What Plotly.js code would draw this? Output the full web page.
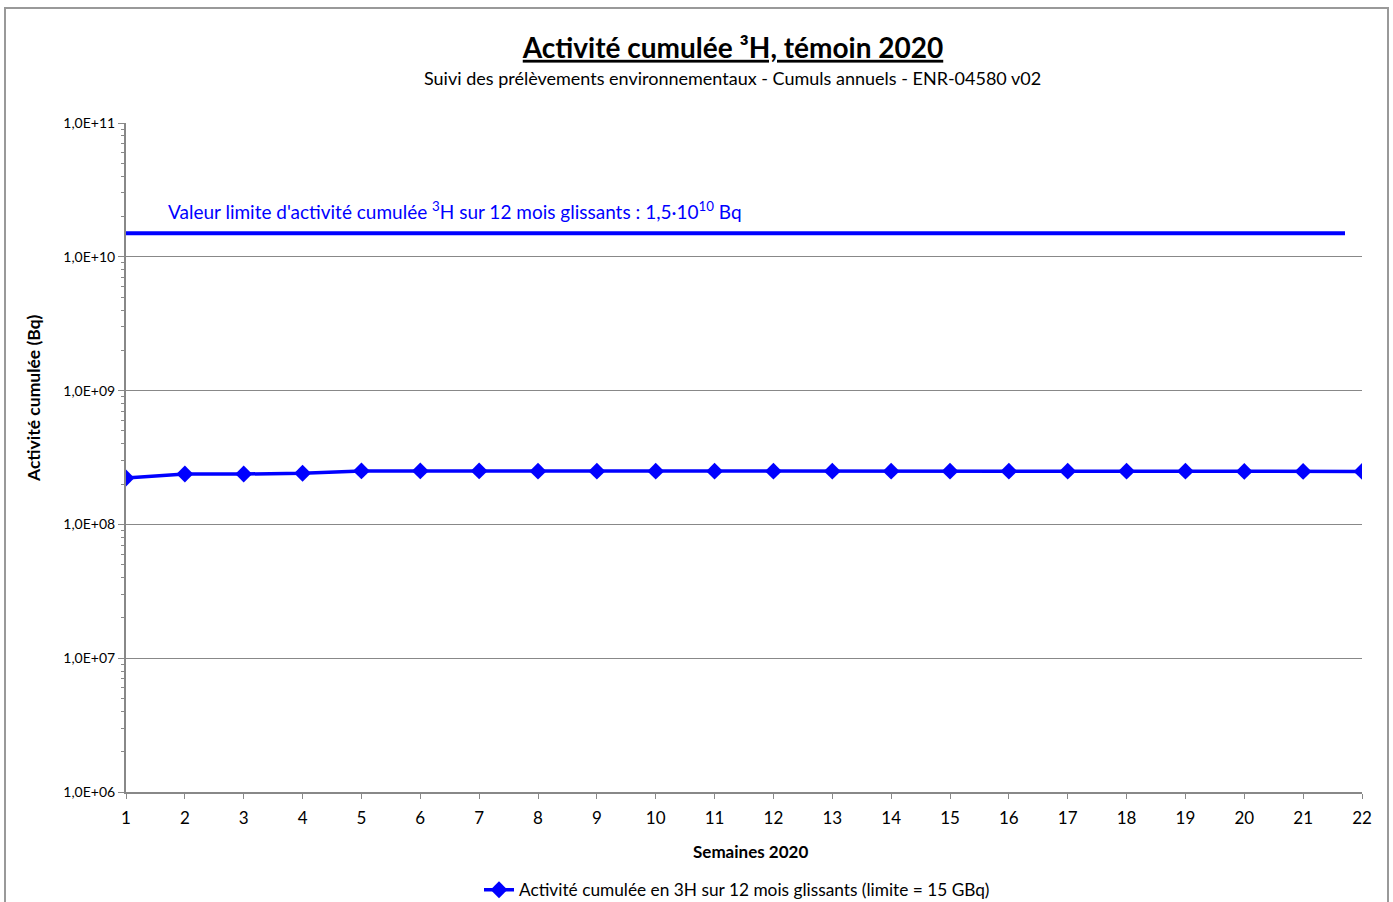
<!DOCTYPE html>
<html>
<head>
<meta charset="utf-8">
<script src="https://cdn.plot.ly/plotly-3.0.1.min.js"></script>
<style>html,body{margin:0;padding:0;background:#fff;}#chart{width:1393px;height:902px;}</style>
</head>
<body>
<div id="chart"></div>
<script>
var weeks = [1,2,3,4,5,6,7,8,9,10,11,12,13,14,15,16,17,18,19,20,21,22];
var activity = [2.22e8,2.38e8,2.38e8,2.41e8,2.51e8,2.51e8,2.51e8,2.50e8,2.50e8,2.50e8,2.50e8,2.50e8,2.50e8,2.50e8,2.50e8,2.50e8,2.50e8,2.50e8,2.50e8,2.49e8,2.49e8,2.49e8];
var limitValue = [1.5e10];
var yTickVals = [1e6,1e7,1e8,1e9,1e10,1e11];
var yTickText = ["1,0E+06","1,0E+07","1,0E+08","1,0E+09","1,0E+10","1,0E+11"];
var seriesName = "Activité cumulée en 3H sur 12 mois glissants (limite = 15 GBq)";

var FONT = "Lato, 'Open Sans', sans-serif";
var W = 1393, H = 902;
var L = 126, R = 31, T = 123, B = 110;
var pw = W - L - R, ph = H - T - B;
function px(x){ return (x - L) / pw; }
function py(y){ return (H - B - y) / ph; }

var trace = {
  x: weeks, y: activity, type: 'scatter', mode: 'lines+markers', name: seriesName,
  line: {color: '#0000ff', width: 3.5},
  marker: {symbol: 'diamond', size: 13, color: '#0000ff'}
};

var layout = {
  width: W, height: H,
  margin: {l: L, r: R, t: T, b: B, autoexpand: false},
  paper_bgcolor: '#ffffff', plot_bgcolor: '#ffffff',
  font: {family: FONT, color: '#000'},
  showlegend: true,
  legend: {orientation: 'h', x: px(737), xanchor: 'center', y: py(890), yanchor: 'middle',
           font: {size: 17.3, family: FONT, color: '#000'}, bgcolor: 'rgba(0,0,0,0)'},
  title: {text: '<u>Activité cumulée ³H, témoin 2020</u>', xref: 'container', yref: 'container',
          x: 733 / W, y: 1 - 48 / H, xanchor: 'center', yanchor: 'middle',
          font: {size: 28, family: FONT, weight: 'bold', color: '#000'}},
  xaxis: {
    range: [1, 22], tickmode: 'array', tickvals: weeks, ticktext: weeks.map(String),
    showgrid: false, zeroline: false, showline: true, linecolor: '#888', linewidth: 2,
    ticks: 'outside', ticklen: 5, tickcolor: '#888', tickwidth: 1, ticklabelstandoff: 5,
    tickfont: {size: 17, family: FONT, color: '#000'}, fixedrange: true
  },
  yaxis: {
    type: 'log', range: [6, 11], tickmode: 'array', tickvals: yTickVals, ticktext: yTickText,
    showgrid: true, gridcolor: '#888', gridwidth: 1, zeroline: false,
    showline: true, linecolor: '#888', linewidth: 2,
    ticks: 'outside', ticklen: 6, tickcolor: '#888', tickwidth: 1,
    minor: {ticks: 'outside', ticklen: 3, tickcolor: '#888', tickwidth: 1, dtick: 'D1', showgrid: false},
    tickfont: {size: 14, family: FONT, color: '#000'}, fixedrange: true
  },
  shapes: [
    {type: 'line', xref: 'paper', yref: 'y', x0: 0, x1: px(1345),
     y0: limitValue[0], y1: limitValue[0], line: {color: '#0000ff', width: 4}},
    {type: 'rect', xref: 'paper', yref: 'paper', x0: px(5), x1: px(1388), y0: py(910), y1: py(8),
     line: {color: '#999', width: 2}, fillcolor: 'rgba(0,0,0,0)', layer: 'below'}
  ],
  annotations: [
    {text: 'Suivi des prélèvements environnementaux - Cumuls annuels - ENR-04580 v02',
     xref: 'paper', yref: 'paper', x: px(732), y: py(78), xanchor: 'center', yanchor: 'middle',
     showarrow: false, font: {size: 18, family: FONT, color: '#000'}},
    {text: "Valeur limite d'activité cumulée <sup>3</sup>H sur 12 mois glissants : 1,5·10<sup>10</sup> Bq",
     xref: 'paper', yref: 'paper', x: px(166), y: py(210), xanchor: 'left', yanchor: 'middle',
     showarrow: false, font: {size: 19, family: FONT, color: '#0000ff'}},
    {text: '<b>Activité cumulée (Bq)</b>', textangle: -90,
     xref: 'paper', yref: 'paper', x: px(33), y: py(398), xanchor: 'center', yanchor: 'middle',
     showarrow: false, font: {size: 17.5, family: FONT, color: '#000'}},
    {text: '<b>Semaines 2020</b>',
     xref: 'paper', yref: 'paper', x: px(750), y: py(851), xanchor: 'center', yanchor: 'middle',
     showarrow: false, font: {size: 17, family: FONT, color: '#000'}}
  ]
};

Plotly.newPlot('chart', [trace], layout, {displayModeBar: false, staticPlot: true});
</script>
</body>
</html>
